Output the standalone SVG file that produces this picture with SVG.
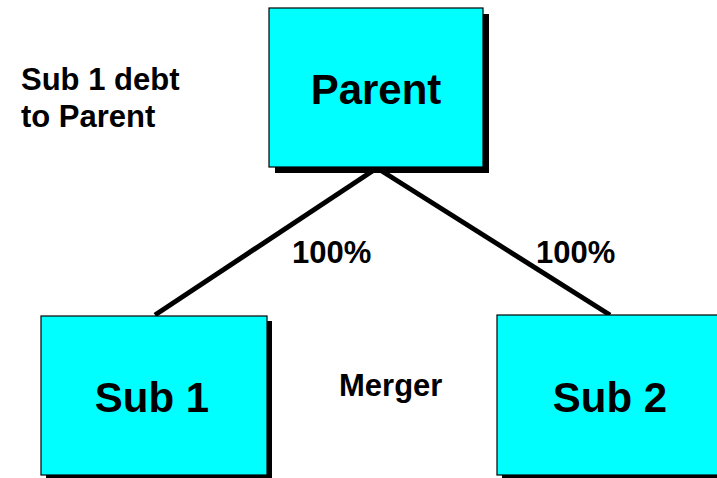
<svg xmlns="http://www.w3.org/2000/svg" width="717" height="478" viewBox="0 0 717 478">
  <style>
    .box { fill: #00FFFF; stroke: #000000; stroke-width: 1.2; }
    .shadow { fill: #000000; }
    .big { font-family: "Liberation Sans", Arial, sans-serif; font-weight: bold; font-size: 42px; fill: #000000; text-anchor: middle; }
    .small { font-family: "Liberation Sans", Arial, sans-serif; font-weight: bold; font-size: 31px; fill: #000000; }
    .link { stroke: #000000; stroke-width: 5; fill: none; stroke-linecap: butt; }
  </style>
  <rect width="717" height="478" fill="#FFFFFF"/>

  <!-- ownership links -->
  <g id="connectors">
    <line class="link" x1="377" y1="168" x2="155" y2="315"/>
    <line class="link" x1="377" y1="168" x2="610" y2="315"/>
  </g>

  <g id="parent">
    <rect class="shadow" x="275" y="14" width="214" height="159"/>
    <rect class="box" x="269" y="8" width="214" height="159"/>
    <text class="big" x="376" y="104">Parent</text>
  </g>

  <g id="sub1">
    <rect class="shadow" x="46" y="321" width="226" height="159"/>
    <rect class="box" x="41" y="316" width="226" height="159"/>
    <text class="big" x="152" y="412">Sub 1</text>
  </g>

  <g id="sub2">
    <rect class="shadow" x="502" y="320" width="226" height="160"/>
    <rect class="box" x="497" y="315" width="226" height="160"/>
    <text class="big" x="610" y="412">Sub 2</text>
  </g>

  <g id="labels">
    <text class="small" x="21" y="90">Sub 1 debt</text>
    <text class="small" x="21" y="127">to Parent</text>
    <text class="small" x="292" y="263">100%</text>
    <text class="small" x="536" y="263">100%</text>
    <text class="small" x="339" y="396">Merger</text>
  </g>
</svg>
